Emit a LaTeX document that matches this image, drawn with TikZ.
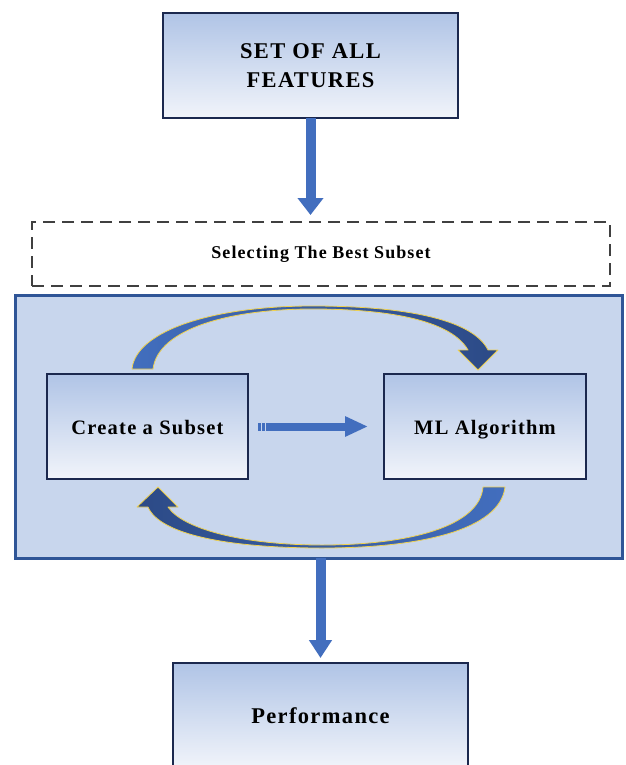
\documentclass[tikz,border=0pt]{standalone}
\usepackage{fontspec}
\setmainfont{Liberation Serif}
\newfontfamily\boxfont[LetterSpace=6]{Liberation Serif}
\usetikzlibrary{positioning,arrows.meta}

\definecolor{boxnavy}{RGB}{27,40,78}
\definecolor{gradtop}{RGB}{176,196,230}
\definecolor{gradbot}{RGB}{241,244,250}
\definecolor{loopfill}{RGB}{200,214,237}
\definecolor{loopedge}{RGB}{47,85,151}
\definecolor{arrowblue}{RGB}{66,110,190}
\definecolor{arrowdark}{RGB}{44,74,134}
\definecolor{rimyellow}{RGB}{238,208,80}
\definecolor{dashgray}{RGB}{64,64,64}

\tikzset{
  gradbox/.style={draw=boxnavy, line width=2.8pt, top color=gradtop, bottom color=gradbot,
    outer sep=0pt, inner sep=0pt, align=center, font=\boxfont\bfseries\fontsize{20.5}{27}\selectfont},
  oneline/.style={text height=15pt, text depth=0pt},
  bigtext/.style={font=\boxfont\bfseries\fontsize{22.5}{29}\selectfont},
  selbox/.style={draw=dashgray, line width=1.2pt, dash pattern=on 12pt off 7pt, outer sep=0pt,
    font=\boxfont\bfseries\fontsize{18}{22}\selectfont},
  loopbox/.style={draw=loopedge, line width=3pt, fill=loopfill, outer sep=0pt},
  blockarrow/.style={draw=arrowblue, line width=10pt},
  curvearrow/.style={draw=rimyellow, line width=0.8pt, line join=round}
}

\begin{document}
\begin{tikzpicture}[x=1pt, y=-1pt, node distance=10pt]
  \path[use as bounding box, fill=white] (0,0) rectangle (625,765);
  \clip (0,0) rectangle (625,765);

  % boxes
  \node [gradbox, bigtext, minimum width=295pt, minimum height=105pt] (feat) at (310.5,65.5) {SET OF ALL\\FEATURES};
  \node [selbox, minimum width=578pt, minimum height=64pt, below=104pt of feat, xshift=10.5pt] (sel) {Selecting The Best Subset};
  \node [loopbox, minimum width=607pt, minimum height=263pt, below=9pt of sel, xshift=-2.5pt] (loop) {};
  \node [gradbox, oneline, minimum width=201pt, minimum height=105pt, right=32pt of loop.west] (sub) {Create a Subset};
  \node [gradbox, oneline, minimum width=202pt, minimum height=105pt, right=136pt of sub] (mla) {ML Algorithm};
  \node [gradbox, bigtext, oneline, minimum width=295pt, minimum height=105pt, below=105pt of loop, xshift=2pt] (perf) {Performance};

  % straight arrows
  \draw[blockarrow, -{Triangle[length=17pt,width=25pt]}, shorten >=7pt] (feat.south) -- (feat.south |- sel.north);
  \draw[blockarrow, -{Triangle[length=18pt,width=22pt]}, shorten >=5pt] (perf.north |- loop.south) -- (perf.north);
  \draw[blockarrow, line width=8pt, -{Triangle[length=23pt,width=19pt]}, shorten <=19pt, shorten >=16pt] (sub.east) -- (mla.west);
  \draw[arrowblue, line width=8pt, dash pattern=on 2.5pt off 1.5pt] ([xshift=10pt]sub.east) -- ([xshift=20pt]sub.east);

  % loop arrows
  \path[curvearrow, left color=arrowblue, right color=arrowdark]
    (132,369) .. controls (136,330) and (215,306) .. (312,306)
    .. controls (400,306) and (472,318) .. (488,350)
    -- (498,350) -- (478,370) -- (458,350) -- (468,350)
    .. controls (452,322) and (395,309) .. (312,309)
    .. controls (232,309) and (158,328) .. (153,369) -- cycle;
  \path[curvearrow, left color=arrowdark, right color=arrowblue]
    (505,487) .. controls (500,530) and (420,548) .. (322,548)
    .. controls (230,548) and (160,535) .. (148,507)
    -- (137,507) -- (158,487) -- (178,507) -- (168,507)
    .. controls (182,528) and (240,545) .. (322,545)
    .. controls (410,545) and (480,526) .. (483,487) -- cycle;
\end{tikzpicture}
\end{document}
